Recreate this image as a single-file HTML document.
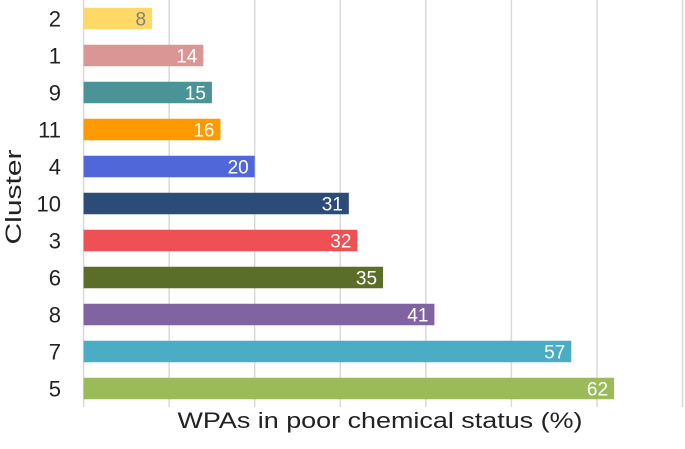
<!DOCTYPE html>
<html><head><meta charset="utf-8"><style>
body{margin:0;background:#fff;font-family:"Liberation Sans",sans-serif;}
svg text{font-family:"Liberation Sans",sans-serif;}
</style></head><body>
<svg id="chart" width="685" height="444" viewBox="0 0 685 444" xmlns="http://www.w3.org/2000/svg">
<g id="grid"></g><g id="bars"></g><g id="labels"></g>
<text x="0" y="0" transform="translate(21,197) rotate(-90)" text-anchor="middle" font-size="22" textLength="95" lengthAdjust="spacingAndGlyphs" fill="#222">Cluster</text>
<text x="380" y="428" text-anchor="middle" font-size="22" textLength="405" lengthAdjust="spacingAndGlyphs" fill="#222">WPAs in poor chemical status (%)</text>
</svg>
<script>
const categories=["2","1","9","11","4","10","3","6","8","7","5"];
const values=[8,14,15,16,20,31,32,35,41,57,62];
const colors=["#FFD966","#DA9694","#4A9396","#FF9900","#4F67D8","#2C4C77","#EF5054","#5A6D29","#8063A1","#4BACC6","#9BBB59"];
const ticks=[0,10,20,30,40,50,60,70];
const ns="http://www.w3.org/2000/svg";
const x=v=>83.6+v*8.556;
const yc=i=>18.5+i*37;
const bh=21.5;
const grid=document.getElementById('grid'),bars=document.getElementById('bars'),labels=document.getElementById('labels');
ticks.forEach(t=>{
 const l=document.createElementNS(ns,'line');
 
 
 l.setAttribute('x1',x(t));l.setAttribute('x2',x(t));l.setAttribute('y1',0);l.setAttribute('y2',407);
 l.setAttribute('stroke','#d9d9d9');l.setAttribute('stroke-width','1.5');
 grid.appendChild(l);
});
categories.forEach((c,i)=>{
 const r=document.createElementNS(ns,'rect');
 
 
 r.setAttribute('x',x(0));r.setAttribute('y',yc(i)-bh/2);r.setAttribute('width',x(values[i])-x(0));r.setAttribute('height',bh);
 r.setAttribute('fill',colors[i]);
 bars.appendChild(r);
 const t=document.createElementNS(ns,'text');
 
 
 t.setAttribute('x',x(values[i])-6);t.setAttribute('y',yc(i)+7);t.setAttribute('text-anchor','end');
 t.setAttribute('font-size','19');t.setAttribute('fill',i==0?'#7f7f7f':'#fff');
 t.textContent=values[i];
 bars.appendChild(t);
 const k=document.createElementNS(ns,'text');
 
 
 k.setAttribute('x',61);k.setAttribute('y',yc(i)+8);k.setAttribute('text-anchor','end');
 k.setAttribute('font-size','22');k.setAttribute('fill','#222');
 k.textContent=c;
 labels.appendChild(k);
});
</script>
</body></html>
